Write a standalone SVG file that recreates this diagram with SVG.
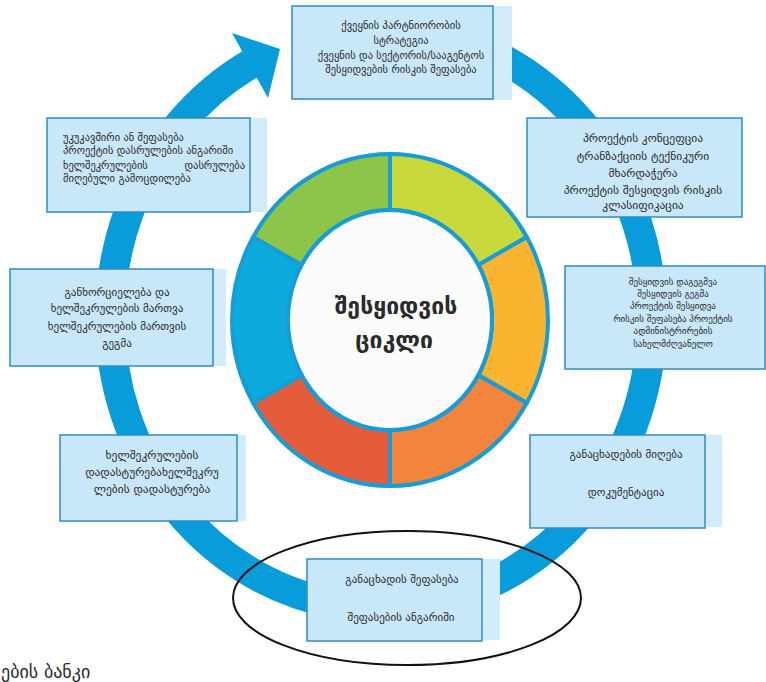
<svg xmlns="http://www.w3.org/2000/svg" width="766" height="682" viewBox="0 0 766 682">
<style>
.box{fill:#C8E7F8;stroke:#2F8CC4;stroke-width:1.5}
.sh{fill:#D3ECF9}
.t{font-family:"DejaVu Sans","Noto Sans",sans-serif;fill:#2a2a2a}
.seg{stroke:#169CD6;stroke-width:4;stroke-linejoin:round}
</style>
<rect width="766" height="682" fill="#ffffff"/>
<g id="connectors">
<path d="M 428 32.4 A 271 290 0 0 1 428 603.6 A 271 290 0 0 1 252 63" fill="none" stroke="#089CDA" stroke-width="30"/>
<polygon points="280,49 232,33 268,98" fill="#089CDA"/>
</g>
<g id="cycle">
<path class="seg" fill="#C8D93C" d="M 390 154 A 158 166 0 0 1 526.8 237 L 478.3 265 A 102 110 0 0 0 390 210 Z"/>
<path class="seg" fill="#FBB430" d="M 526.8 237 A 158 166 0 0 1 526.8 403 L 478.3 375 A 102 110 0 0 0 478.3 265 Z"/>
<path class="seg" fill="#F2843B" d="M 526.8 403 A 158 166 0 0 1 390 486 L 390 430 A 102 110 0 0 0 478.3 375 Z"/>
<path class="seg" fill="#E55C3A" d="M 390 486 A 158 166 0 0 1 253.2 403 L 301.7 375 A 102 110 0 0 0 390 430 Z"/>
<path class="seg" fill="#0DAADD" d="M 253.2 403 A 158 166 0 0 1 253.2 237 L 301.7 265 A 102 110 0 0 0 301.7 375 Z"/>
<path class="seg" fill="#8DC54B" d="M 253.2 237 A 158 166 0 0 1 390 154 L 390 210 A 102 110 0 0 0 301.7 265 Z"/>
<ellipse cx="390" cy="320" rx="102" ry="110" fill="#FCFCFC" stroke="#169CD6" stroke-width="4"/>
<text class="t" x="396" y="314" font-size="23" font-weight="bold" text-anchor="middle" fill="#111">შესყიდვის</text>
<text class="t" x="394" y="348" font-size="23" font-weight="bold" text-anchor="middle" fill="#111">ციკლი</text>
</g>
<g id="n1">
<rect class="sh" x="292" y="6" width="220" height="94"/>
<rect class="box" x="292" y="6" width="201" height="93"/>
<g class="t" font-size="10.5" text-anchor="middle">
<text x="401" y="29">ქვეყნის პარტნიორობის</text>
<text x="401" y="44">სტრატეგია</text>
<text x="401" y="59">ქვეყნის და სექტორის/სააგენტოს</text>
<text x="401" y="73">შესყიდვების რისკის შეფასება</text>
</g>
</g>
<g id="n2">
<rect class="box" x="527" y="118" width="215" height="99"/>
<g class="t" font-size="11.5" text-anchor="middle">
<text x="643" y="142">პროექტის კონცეფცია</text>
<text x="643" y="160">ტრანზაქციის ტექნიკური</text>
<text x="643" y="177">მხარდაჭერა</text>
<text x="643" y="194">პროექტის შესყიდვის რისკის</text>
<text x="643" y="209">კლასიფიკაცია</text>
</g>
</g>
<g id="n3">
<rect class="box" x="565" y="266" width="200" height="103"/>
<g class="t" font-size="9" text-anchor="middle">
<text x="673" y="285">შესყიდვის დაგეგმვა</text>
<text x="673" y="297">შესყიდვის გეგმა</text>
<text x="673" y="309">პროექტის შესყიდვა</text>
<text x="673" y="322">რისკის შეფასება პროექტის</text>
<text x="673" y="334">ადმინისტრირების</text>
<text x="673" y="347">სახელმძღვანელო</text>
</g>
</g>
<g id="n4">
<rect class="sh" x="530" y="435" width="192" height="92"/>
<rect class="box" x="530" y="435" width="175" height="93"/>
<g class="t" font-size="11" text-anchor="middle">
<text x="626" y="458">განაცხადების მიღება</text>
<text x="626" y="496">დოკუმენტაცია</text>
</g>
</g>
<g id="n5">
<rect class="sh" x="307" y="559" width="193" height="81"/>
<rect class="box" x="307" y="559" width="175" height="82"/>
<g class="t" font-size="11" text-anchor="middle">
<text x="402" y="583">განაცხადის შეფასება</text>
<text x="401" y="621">შეფასების ანგარიში</text>
</g>
</g>
<g id="n6">
<rect class="sh" x="60" y="435" width="186" height="86"/>
<rect class="box" x="60" y="435" width="177" height="86"/>
<g class="t" font-size="11.5" text-anchor="middle">
<text x="152" y="459">ხელშეკრულების</text>
<text x="152" y="476">დადასტურებახელშეკრუ</text>
<text x="152" y="493">ლების დადასტურება</text>
</g>
</g>
<g id="n7">
<rect class="sh" x="10" y="269" width="216" height="97"/>
<rect class="box" x="10" y="269" width="203" height="97"/>
<g class="t" font-size="11" text-anchor="middle">
<text x="117" y="296">განხორციელება და</text>
<text x="117" y="312">ხელშეკრულების  მართვა</text>
<text x="117" y="330">ხელშეკრულების მართვის</text>
<text x="117" y="347">გეგმა</text>
</g>
</g>
<g id="n8">
<rect class="sh" x="47" y="118" width="220" height="94"/>
<rect class="box" x="47" y="118" width="203" height="94"/>
<g class="t" font-size="10.5">
<text x="63" y="141">უკუკავშირი ან შეფასება</text>
<text x="63" y="154">პროექტის დასრულების ანგარიში</text>
<text x="63" y="169">ხელშეკრულების</text>
<text x="245" y="169" text-anchor="end">დასრულება</text>
<text x="63" y="182">მიღებული გამოცდილება</text>
</g>
</g>
<ellipse id="highlight" cx="407" cy="598" rx="174" ry="67" fill="none" stroke="#111" stroke-width="2"/>
<text class="t" x="1" y="678" font-size="18" fill="#222">ების ბანკი</text>
</svg>
